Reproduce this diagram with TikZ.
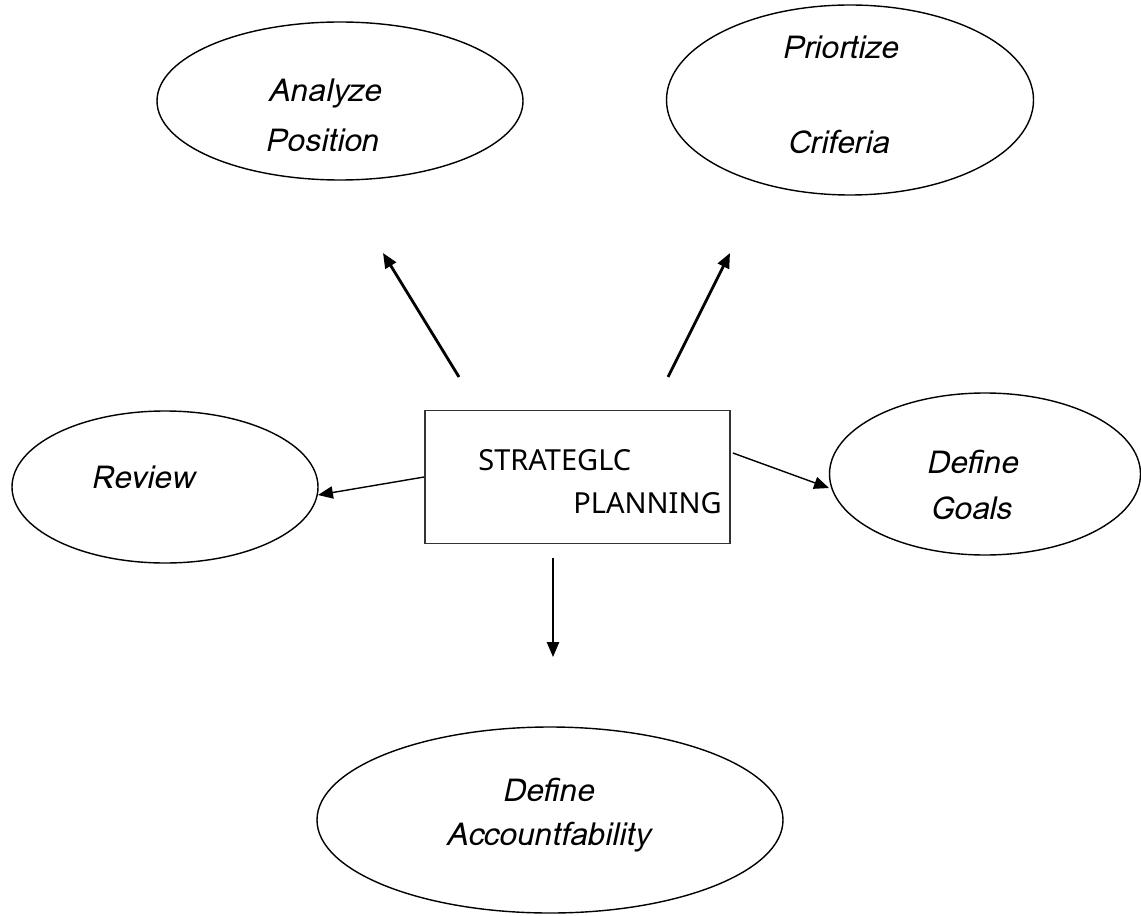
\documentclass[tikz,border=0pt]{standalone}
\usepackage{fontspec}
\setmainfont{Loma}
\setsansfont{Noto Sans}
\usetikzlibrary{calc, shapes.geometric, arrows.meta}

\begin{document}
\begin{tikzpicture}[x=0.02cm, y=-0.02cm]

% Picture frame
\useasboundingbox (0,0) rectangle (1141,915);

% Sizes
\newcommand{\linew}{0.8pt}
\newcommand{\tipl}{8.5pt}
\newcommand{\tipw}{7pt}

\tikzset{
  bubble/.style={ellipse, draw, line width=\linew, inner sep=0pt},
  bubbletext/.style={font=\fontsize{18}{20}\selectfont\itshape, inner sep=0pt},
  boxtext/.style={font=\sffamily\fontsize{16.5}{18}\selectfont, inner sep=0pt, anchor=west},
  thickarrow/.style={line width=1.6pt, -{Triangle[length=\tipl, width=\tipw]}},
  thinarrow/.style={line width=0.8pt, -{Triangle[length=\tipl, width=\tipw]}}
}

\newcommand{\bubblenode}[5]{
  \node[bubble, minimum width={#4*0.02cm}, minimum height={#5*0.02cm}] (#1) at (#2,#3) {};
}

% Ellipses
\bubblenode{AP}{340}{101}{366}{158}
\bubblenode{PC}{850}{100}{367}{190}
\bubblenode{RV}{165}{487}{306}{152}
\bubblenode{DG}{985}{474}{311}{162}
\bubblenode{DA}{550}{820}{466}{186}

% Ellipse texts
\node[bubbletext] (APa) at (325, 93) {Analyze};
\node[bubbletext] (APb) at (322,140) {Position};
\node[bubbletext] (PCa) at (840, 47) {Priortize};
\node[bubbletext] (PCb) at (838,142) {Criferia};
\node[bubbletext] (RVa) at (143,477) {Review};
\node[bubbletext] (DGa) at (972,462) {Define};
\node[bubbletext] (DGb) at (971,508) {Goals};
\node[bubbletext] (DAa) at (548,790) {Define};
\node[bubbletext] (DAb) at (548,837) {Accountfability};

% Centre box
\node[draw, draw=black!80, line width=1pt, minimum width={305*0.02cm},
      minimum height={133*0.02cm}] (SP) at (577.5,477) {};
\node[boxtext] (SPa) at (478,460) {STRATEGLC};
\node[boxtext] (SPb) at (573,503) {PLANNING};

% Arrow ends
\coordinate (APtail) at (459,377);
\coordinate (APtip)  at (383,253);
\coordinate (PCtail) at (668,377);
\coordinate (PCtip)  at (730,253);
\coordinate (RVtip)  at (318,495);
\coordinate (DGtail) at ($ (SP.east) + (2,-24) $);
\coordinate (DGtip)  at (829,488);
\coordinate (DAtail) at (553,558);
\coordinate (DAtip)  at (553,657);

\draw[thickarrow] (APtail) -- (APtip);
\draw[thickarrow] (PCtail) -- (PCtip);
\draw[thinarrow] (SP.west) -- (RVtip);
\draw[thinarrow] (DGtail) -- (DGtip);
\draw[thinarrow] (DAtail) -- (DAtip);

\end{tikzpicture}
\end{document}
